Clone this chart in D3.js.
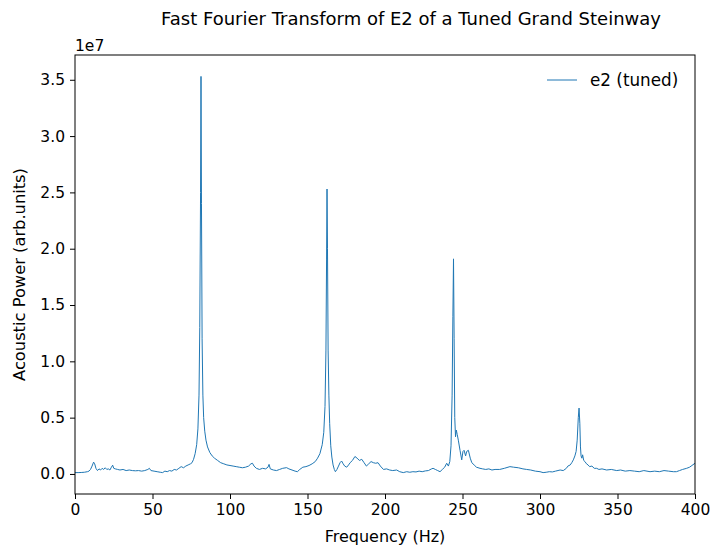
<!DOCTYPE html>
<html>
<head>
<meta charset="utf-8">
<script src="https://cdn.jsdelivr.net/npm/d3@7"></script>
<style>
body{margin:0;background:#fff}
svg{display:block;font-family:"DejaVu Sans",sans-serif}
</style>
</head>
<body>
<div id="chart"></div>
<script>
// frequency (Hz) and acoustic power (x1e7 arb. units)
const freq=[0,2,4,6,8,9,10,11,12,12.7,13.5,14.5,15.5,16.5,17.5,18.5,19.5,20.5,21.5,22.5,23.5,24.3,25,26,27.5,29,31,33,35,37,39,41,43,45,47,48,49,51,53,55,56.5,58,59.5,61,62.5,64,65.5,67,68.5,70,71.5,73,74.5,75.5,76.5,77.5,78.5,79.3,80,80.5,81,81.3,81.6,82,82.5,83,83.7,84.5,85.5,87,88.5,90,92,94,96,98,100,102,104,106,108,110,112,113.5,114.5,115.5,117,119,121,123,124.5,125.2,126,128,130,132,134,136.5,138,140,142,143.5,145,147,149,151,153,155,156.5,158,159.5,160.5,161.3,161.9,162.3,162.6,162.9,163.3,163.8,164.3,165,165.7,166.5,167.3,168,169,170,171,172,173,174,175.3,176.5,177.5,179,180.6,182,183.5,185,186.5,188,189.5,191,192.5,194,195.5,197,199,201,203,205,207.5,209.5,211.8,214,216,218,220,222,224,226,228,230,231,232.5,234,235.5,237,238.5,239.8,240.9,241.8,242.6,243.3,243.8,244.2,244.6,245,245.5,246,246.6,247.3,248.4,249.5,250.3,251,252,252.7,253.8,255,256,257.5,259,261.3,263,265,267,269,271,274,277,280.6,283,286,289,291.4,294,297,300,302,304,306,308,310,313,315,317,318,319.5,320.5,321.5,322.5,323.3,324,324.7,325.2,325.7,326.1,326.5,327,327.5,328.2,329,330,331,332,333.5,335,336.6,338,340,343,346,349.5,352,355,358,361,364,367,371,374,377,380,383,386,388,390,392,394.6,396.5,398,400]

const power=[0.012,0.012,0.013,0.015,0.02,0.025,0.04,0.07,0.105,0.09,0.05,0.03,0.045,0.035,0.05,0.04,0.055,0.04,0.045,0.035,0.06,0.078,0.05,0.045,0.04,0.035,0.04,0.03,0.035,0.03,0.028,0.03,0.025,0.03,0.04,0.05,0.03,0.025,0.02,0.015,0.012,0.025,0.02,0.03,0.025,0.04,0.035,0.05,0.065,0.055,0.07,0.08,0.09,0.1,0.13,0.18,0.26,0.4,0.7,1.3,2.5,3.53,2.4,1.2,0.7,0.5,0.38,0.3,0.24,0.19,0.16,0.14,0.12,0.1,0.09,0.08,0.075,0.07,0.065,0.06,0.055,0.06,0.07,0.09,0.095,0.07,0.05,0.04,0.05,0.045,0.06,0.085,0.045,0.035,0.03,0.04,0.05,0.056,0.045,0.035,0.025,0.02,0.04,0.06,0.065,0.075,0.09,0.11,0.14,0.18,0.26,0.37,0.6,1.1,1.9,2.53,2.0,1.1,0.7,0.45,0.25,0.15,0.08,0.04,0.02,0.04,0.07,0.1,0.115,0.09,0.07,0.06,0.08,0.1,0.12,0.155,0.14,0.12,0.13,0.1,0.07,0.09,0.11,0.1,0.095,0.1,0.07,0.04,0.045,0.035,0.03,0.035,0.02,0.012,0.02,0.015,0.02,0.018,0.025,0.02,0.027,0.03,0.045,0.05,0.04,0.03,0.02,0.04,0.06,0.095,0.07,0.11,0.25,0.7,1.4,1.91,1.2,0.5,0.33,0.39,0.35,0.3,0.21,0.125,0.2,0.21,0.16,0.2,0.21,0.14,0.1,0.08,0.06,0.05,0.045,0.04,0.045,0.035,0.04,0.04,0.05,0.065,0.06,0.055,0.045,0.04,0.035,0.025,0.02,0.012,0.015,0.02,0.018,0.025,0.035,0.03,0.05,0.07,0.08,0.1,0.125,0.16,0.2,0.3,0.5,0.585,0.45,0.24,0.16,0.14,0.17,0.12,0.11,0.09,0.08,0.065,0.07,0.05,0.05,0.04,0.045,0.035,0.04,0.03,0.035,0.025,0.03,0.025,0.02,0.03,0.02,0.025,0.02,0.03,0.025,0.02,0.02,0.03,0.04,0.05,0.06,0.075,0.095]

const xTicks=[0,50,100,150,200,250,300,350,400]
const yTicks=[0,0.5,1,1.5,2,2.5,3,3.5]

const width=711
const height=548
const margin={top:55,right:16,bottom:54,left:75}
const blue="#1f77b4"
const fs="15.5px"

const svg=d3.select("#chart")
.append("svg")
.attr("width",width)
.attr("height",height)

const x=d3.scaleLinear()
.domain([0,400])
.range([margin.left,width-margin.right])

const y=d3.scaleLinear()
.domain([-0.178,3.72])
.range([height-margin.bottom,margin.top])

const points=freq.map((f,i)=>[f,power[i]])

const line=d3.line()
.x(d=>x(d[0]))
.y(d=>y(d[1]))

svg.append("defs").append("clipPath")
.attr("id","clip")
.append("rect")
.attr("x",margin.left)
.attr("y",margin.top)
.attr("width",width-margin.left-margin.right)
.attr("height",height-margin.top-margin.bottom)

svg.append("path")
.datum(points)
.attr("clip-path","url(#clip)")
.attr("fill","none")
.attr("stroke",blue)
.attr("stroke-width",1)
.attr("stroke-linejoin","round")
.attr("d",line)

// axes
svg.append("g")
.attr("transform",`translate(0,${height-margin.bottom})`)
.call(d3.axisBottom(x).tickValues(xTicks).tickFormat(d3.format("d")).tickSize(5).tickPadding(5))

svg.append("g")
.attr("transform",`translate(${margin.left},0)`)
.call(d3.axisLeft(y).tickValues(yTicks).tickFormat(d3.format(".1f")).tickSize(5).tickPadding(5))

svg.selectAll(".domain").remove()
svg.selectAll(".tick line").attr("stroke","#000").attr("stroke-width",1)
svg.selectAll(".tick text")
.attr("fill","#000")
.style("font-size",fs)
.style("font-family","DejaVu Sans")

// frame
svg.append("rect")
.attr("x",margin.left)
.attr("y",margin.top)
.attr("width",width-margin.left-margin.right)
.attr("height",height-margin.top-margin.bottom)
.attr("fill","none")
.attr("stroke","#000")
.attr("stroke-width",1)

svg.append("text")
.attr("x",margin.left)
.attr("y",margin.top-4)
.style("font-size",fs)
.text("1e7")

svg.append("text")
.attr("x",411)
.attr("y",25)
.attr("text-anchor","middle")
.style("font-size","18px")
.text("Fast Fourier Transform of E2 of a Tuned Grand Steinway")

svg.append("text")
.attr("x",(margin.left+width-margin.right)/2)
.attr("y",542)
.attr("text-anchor","middle")
.style("font-size","16px")
.text("Frequency (Hz)")

svg.append("text")
.attr("transform",`translate(25,${(margin.top+height-margin.bottom)/2}) rotate(-90)`)
.attr("text-anchor","middle")
.style("font-size","16.3px")
.text("Acoustic Power (arb.units)")

// legend
const legend=svg.append("g")
.attr("transform","translate(547,80)")

legend.append("line")
.attr("x1",0)
.attr("x2",30)
.attr("stroke",blue)
.attr("stroke-width",1)

legend.append("text")
.attr("x",43)
.attr("y",5.5)
.style("font-size","16.8px")
.text("e2 (tuned)")
</script>
</body>
</html>
